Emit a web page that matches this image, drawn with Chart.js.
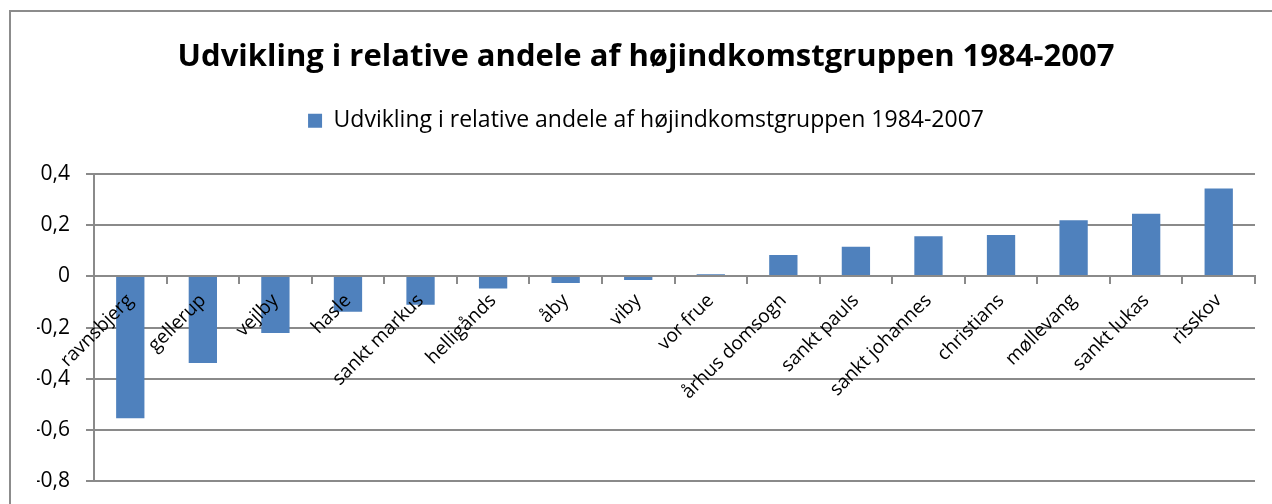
<!DOCTYPE html>
<html>
<head>
<meta charset="utf-8">
<script src="https://cdn.jsdelivr.net/npm/chart.js@4"></script>
<style>
  html, body { margin: 0; padding: 0; background: #fff; overflow: hidden; }
  #frame {
    position: absolute; left: 9px; top: 10px;
    width: 1300px; height: 600px;
    border: 2px solid #8c8c8c;
  }
  #chart { position: absolute; left: 0; top: 0; }
</style>
</head>
<body>
<div id="frame"></div>
<canvas id="chart" width="1272" height="504"></canvas>
<script>
const TITLE = "Udvikling i relative andele af højindkomstgruppen 1984-2007";
const SERIES_NAME = "Udvikling i relative andele af højindkomstgruppen 1984-2007";

const parishes = [
  "ravnsbjerg", "gellerup", "vejlby", "hasle", "sankt markus", "helligånds",
  "åby", "viby", "vor frue", "århus domsogn", "sankt pauls", "sankt johannes",
  "christians", "møllevang", "sankt lukas", "risskov"
];

const change = [
  -0.555, -0.338, -0.221, -0.138, -0.111, -0.047,
  -0.026, -0.014, 0.009, 0.084, 0.116, 0.157,
  0.162, 0.22, 0.245, 0.344
];

const yMin = -0.8;
const yMax = 0.4;
const yStep = 0.2;

const FONT = "'Open Sans', 'DejaVu Sans', sans-serif";
const GRID = "#8a8a8a";
const BAR = "#4f81bd";

function fmtTick(v) {
  if (Math.abs(v) < 1e-9) return "0";
  return v.toFixed(1).replace(".", ",");
}

new Chart(document.getElementById("chart"), {
  type: "bar",
  data: {
    labels: parishes,
    datasets: [
      {
        label: SERIES_NAME,
        data: change,
        backgroundColor: BAR,
        borderWidth: 0,
        barPercentage: 0.39,
        categoryPercentage: 1,
      },
    ],
  },
  options: {
    responsive: false,
    animation: false,
    layout: {
      padding: { top: 0, right: 17, bottom: 0, left: 37 },
    },
    plugins: {
      title: {
        display: true,
        text: TITLE,
        color: "#000",
        font: { family: FONT, size: 31, weight: "bold" },
        padding: { top: 39, bottom: 23 },
      },
      legend: {
        display: true,
        labels: {
          color: "#000",
          font: { family: FONT, size: 23 },
          boxWidth: 14,
          boxHeight: 14,
          padding: 10,
        },
      },
      // empty spacer between the legend and the plot area
      subtitle: {
        display: true,
        text: "",
        weight: 500,
        font: { size: 10 },
        padding: { top: 20, bottom: 0 },
      },
      tooltip: { enabled: false },
    },
    scales: {
      x: {
        position: { y: 0 },
        afterFit: (scale) => {
          scale.height = 0;
        },
        grid: {
          offset: true,
          drawOnChartArea: false,
          drawTicks: true,
          tickLength: 7,
          color: GRID,
          lineWidth: 2,
          z: 1,
        },
        border: { display: true, color: GRID, width: 2, z: 1 },
        ticks: {
          z: 1, // category names sit on top of the bars
          color: "#000",
          font: { family: FONT, size: 19 },
          minRotation: 45,
          maxRotation: 45,
          autoSkip: false,
          padding: 6,
        },
      },
      y: {
        min: yMin,
        max: yMax,
        afterFit: (scale) => {
          scale.width = 57;
          scale.paddingBottom = 23;
        },
        grid: {
          color: GRID,
          lineWidth: 2,
          drawTicks: true,
          tickLength: 8,
        },
        border: { display: true, color: GRID, width: 2 },
        ticks: {
          stepSize: yStep,
          color: "#000",
          font: { family: FONT, size: 21 },
          padding: 16,
          callback: (v) => fmtTick(v),
        },
      },
    },
  },
});
</script>
</body>
</html>
